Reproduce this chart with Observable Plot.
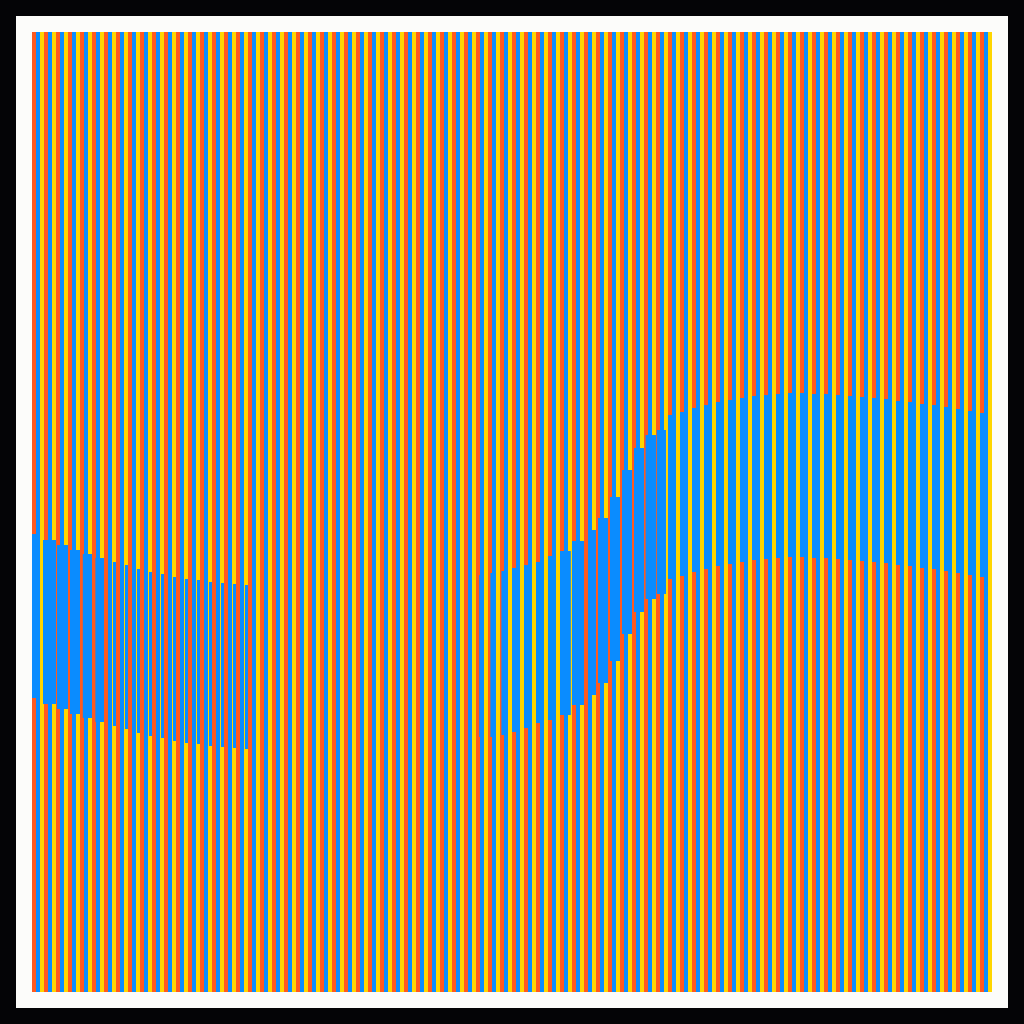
<!DOCTYPE html>
<html>
<head>
<meta charset="utf-8">
<script src="https://cdn.jsdelivr.net/npm/d3@7"></script>
<script src="https://cdn.jsdelivr.net/npm/@observablehq/plot@0.6"></script>
<style>
  html, body { margin: 0; padding: 0; background: #040406; overflow: hidden; }
  #chart { position: absolute; left: 16px; top: 16px; }
  #chart svg { display: block; }
</style>
</head>
<body>
<div id="chart"></div>
<script>
// Stripe palette (orange, blue, yellow) cycling across 240 stripes in 80 groups
const stripeColors = ["#ff5a1f", "#0a8cff", "#ffd600"];
const stripeCount = 240;
const bandColor = "#0a8cff";

// Wave band: per group (80 groups), upper and lower edge (value scale 0–960), null = no band
const bandTop = [
  458, 452, 447, 442, 438, 434, 430, 427, 423, 420, 418, 415, 413, 412, 410, 409, 408, 407,
  null, null, null, null, null, null, null, null, null, null, null, null, null, null, null, null, null, null, null,
  417, 419, 421, 424, 427, 430, 436, 441, 451, 462, 474, 495, 522, 544, 557, 562,
  577, 580, 584, 587, 590, 592, 594, 596, 597, 598, 599, 599, 598, 598, 597, 596, 595, 594, 593, 591, 590, 588, 587, 585, 583, 581, 579
];
const bandBottom = [
  294, 288, 283, 278, 274, 270, 266, 263, 259, 256, 254, 251, 249, 248, 246, 245, 244, 243,
  null, null, null, null, null, null, null, null, null, null, null, null, null, null, null, null, null, null, null,
  255, 255, 257, 260, 264, 269, 272, 277, 287, 297, 309, 331, 358, 380, 393, 398,
  413, 416, 420, 423, 426, 428, 430, 432, 433, 434, 435, 435, 434, 434, 433, 432, 431, 430, 429, 427, 426, 424, 423, 421, 419, 417, 415
];
// Which part of each group (in stripe units: 0 orange, 1 blue, 2 yellow) the band covers
const coverFrom = [
  0, -0.25, 0.25, 0.5, 0.7, 0.85, 2.25, 2.25, 2.25, 2.25, 2.25, 2.25, 2.25, 2.25, 2.25, 2.25, 2.25, 2.25,
  null, null, null, null, null, null, null, null, null, null, null, null, null, null, null, null, null, null, null,
  0.8, 0.6, 0.35, 0, 0, 0, 0, 0, 0, 1, 0.5, 0.5, 0.5, 0.5, 0.4, 0.2,
  0, 0, 0, 0, 0, 0, 0, 0, 0, 0, 0, 0, 0, 0, 0, 0, 0, 0, 0, 0, 0, 0, 0, 0, 0, 0, 0
];
const coverTo = [
  2, 3, 3, 3, 3, 3, 3, 3, 3, 3, 3, 3, 3, 3, 3, 3, 3, 3,
  null, null, null, null, null, null, null, null, null, null, null, null, null, null, null, null, null, null, null,
  2, 2, 2, 2, 2, 2, 2, 2.7, 3, 3, 3, 3, 3, 3, 3, 2.5,
  2, 2, 2, 2, 2, 2, 2, 2, 2, 2, 2, 2, 2, 2, 2, 2, 2, 2, 2, 2, 2, 2, 2, 2, 2, 2, 2
];

const stripes = d3.range(stripeCount).map(k => ({k, color: stripeColors[k % 3]}));
const band = bandTop.map((t, i) => ({
  i, top: t, bottom: bandBottom[i], from: coverFrom[i], to: coverTo[i]
})).filter(d => d.top != null);

const chart = Plot.plot({
  width: 992,
  height: 992,
  margin: 16,
  x: {domain: [0, stripeCount], axis: null},
  y: {domain: [0, 960], axis: null},
  color: {type: "identity"},
  style: {background: "#fcfcfa"},
  marks: [
    Plot.rect(stripes, {x1: d => d.k, x2: d => d.k + 1, y1: 0, y2: 960, fill: "color"}),
    Plot.rect(band, {
      x1: d => d.i * 3 + d.from,
      x2: d => d.i * 3 + d.to,
      y1: "bottom",
      y2: "top",
      fill: bandColor
    })
  ]
});
document.getElementById("chart").appendChild(chart);
</script>
</body>
</html>
